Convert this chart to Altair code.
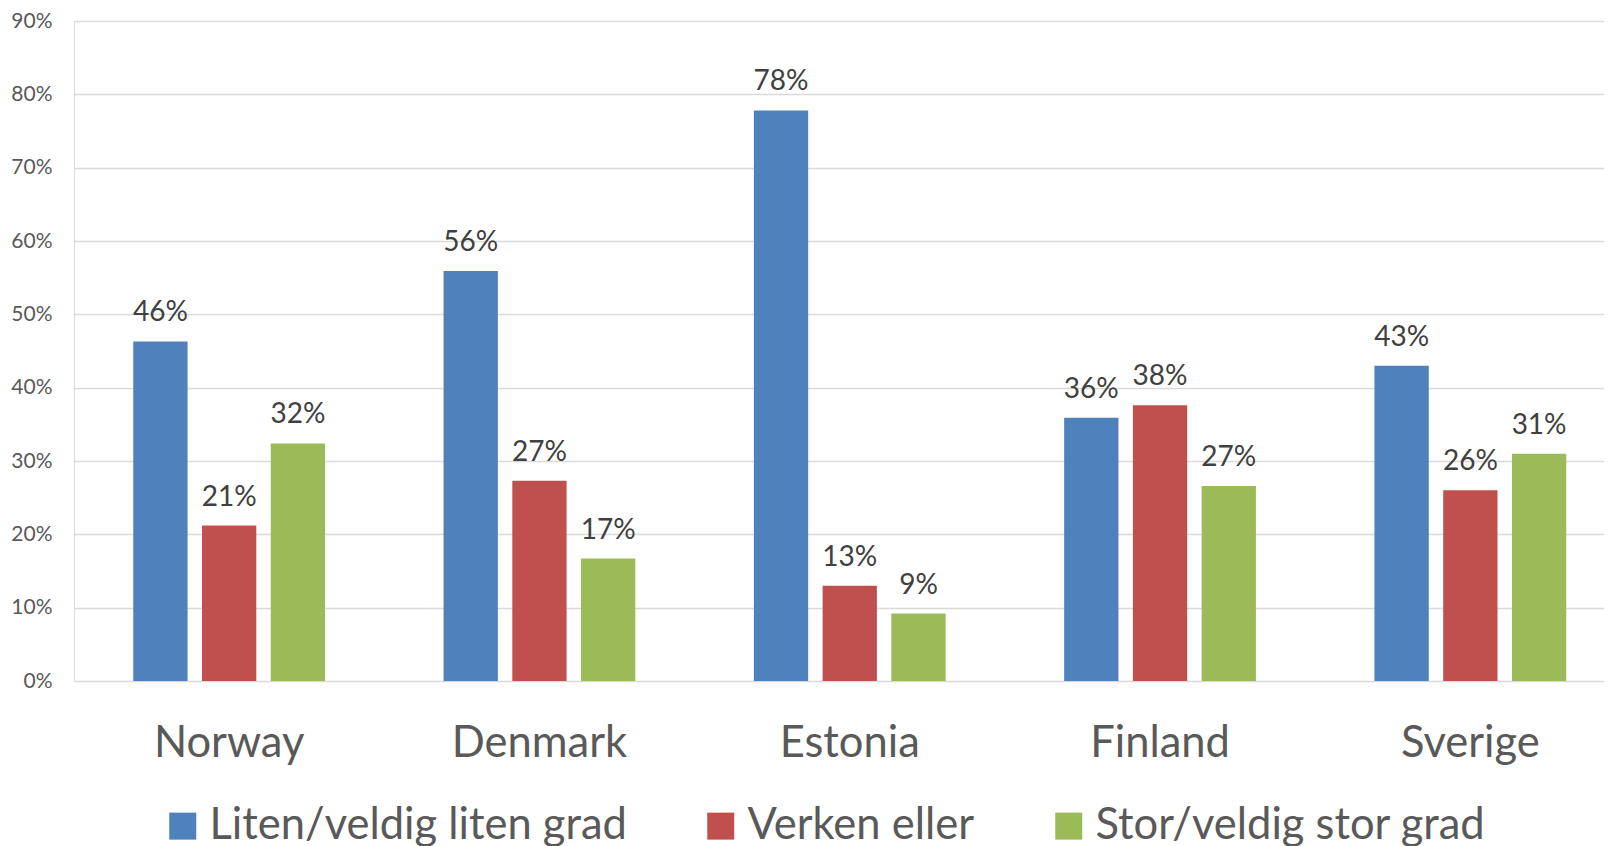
import altair as alt
import pandas as pd

countries = ["Norway", "Denmark", "Estonia", "Finland", "Sverige"]
series = ["Liten/veldig liten grad", "Verken eller", "Stor/veldig stor grad"]
liten = [0.463, 0.559, 0.778, 0.359, 0.430]
verken = [0.212, 0.273, 0.130, 0.376, 0.260]
stor = [0.324, 0.167, 0.092, 0.266, 0.310]
colors = ["#4F81BD", "#C0504D", "#9BBB59"]
y_ticks = [0, 0.1, 0.2, 0.3, 0.4, 0.5, 0.6, 0.7, 0.8, 0.9]

rows = []
for s, vals in zip(series, [liten, verken, stor]):
    for c, v in zip(countries, vals):
        rows.append({"country": c, "series": s, "value": v})
df = pd.DataFrame(rows)

FONT = "Lato"
xscale = alt.Scale(paddingInner=0.382, paddingOuter=0.191, range=[0, 1551.5])

x = alt.X("country:N", sort=countries, title=None, scale=xscale,
          axis=alt.Axis(labelAngle=0, labelFontSize=43.5, labelColor="#595959",
                        labelFont=FONT, ticks=False, tickSize=0, domain=False,
                        labelBaseline="alphabetic", labelPadding=75, grid=False))
xoff = alt.XOffset("series:N", sort=series,
                   scale=alt.Scale(paddingInner=0.21, paddingOuter=0))
y = alt.Y("value:Q", stack=False, title=None,
          scale=alt.Scale(domain=[0, 0.9], nice=False),
          axis=alt.Axis(values=y_ticks, format=".0%", labelFontSize=21,
                        labelColor="#595959", labelFont=FONT, ticks=False,
                        domain=False, labelPadding=22, gridColor="#d9d9d9",
                        gridWidth=1.5))

bars = alt.Chart(df).mark_bar().encode(
    x=x, xOffset=xoff, y=y,
    color=alt.Color("series:N", sort=series,
                    scale=alt.Scale(domain=series, range=colors),
                    legend=alt.Legend(title=None, orient="none", direction="horizontal",
                                      legendX=87, legendY=783,
                                      symbolType="square", symbolSize=729,
                                      symbolStrokeWidth=0, labelFontSize=43.5,
                                      labelFont=FONT, labelColor="#595959",
                                      columnPadding=72, labelOffset=5,
                                      labelLimit=700)),
)

labels = alt.Chart(df).mark_text(
    baseline="alphabetic", dy=-20, fontSize=28, font=FONT, color="#404040"
).encode(
    x=alt.X("country:N", sort=countries, scale=xscale),
    xOffset=alt.XOffset("series:N", sort=series),
    y=alt.Y("value:Q", stack=False),
    text=alt.Text("value:Q", format=".0%"),
)

chart = (bars + labels).properties(
    width=1530, height=660,
    autosize=alt.AutoSizeParams(type="none"),
    padding={"left": 66, "top": 13, "right": 0, "bottom": 180},
).configure_view(stroke=None).configure(background="white")

chart.save("out.html", embed_options={"renderer": "svg", "actions": False})
